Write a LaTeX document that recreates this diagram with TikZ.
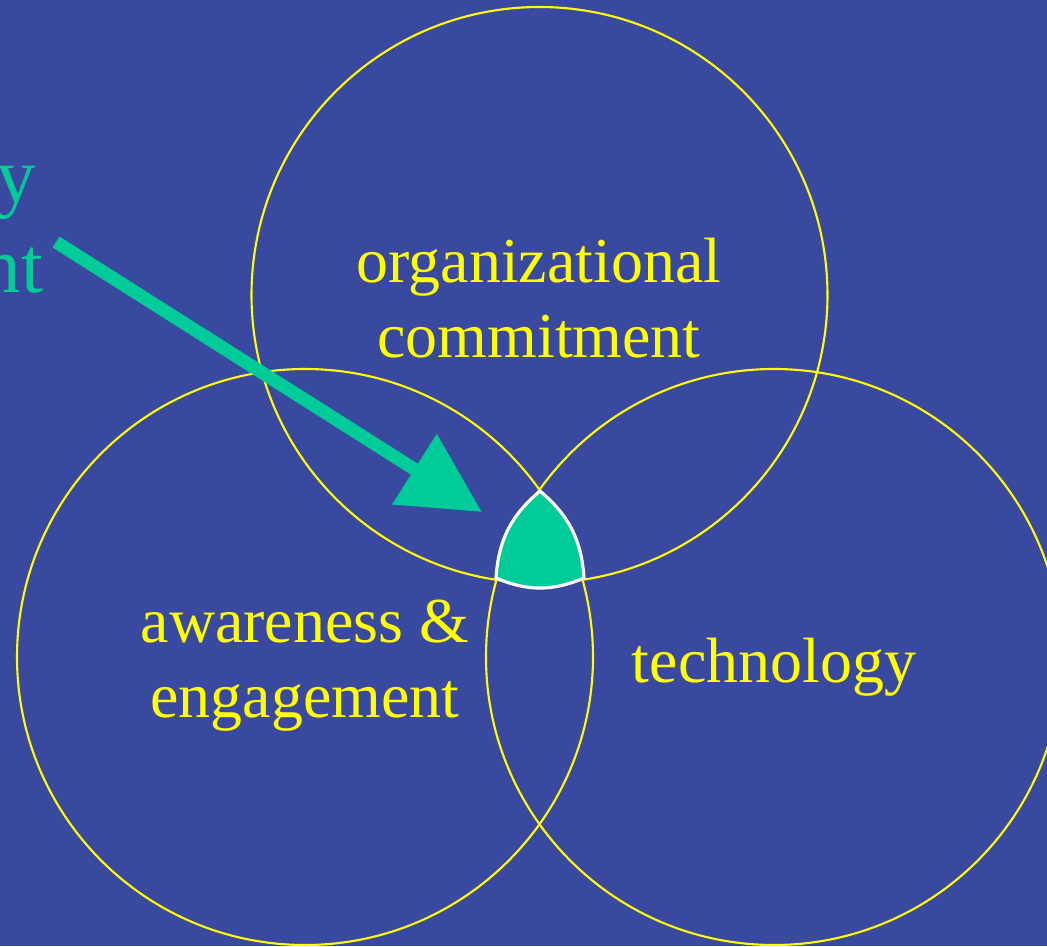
\documentclass[tikz,border=0pt]{standalone}
\usepackage{fontspec}
\setmainfont{Liberation Serif}
\usetikzlibrary{arrows.meta}
\definecolor{slide}{RGB}{58,73,160}
\definecolor{vgreen}{RGB}{0,204,153}
\definecolor{vyellow}{RGB}{255,255,0}

\begin{document}
\begin{tikzpicture}[ring/.style={circle,draw=vyellow,line width=0.6pt,minimum size=5.76cm,inner sep=0pt},
  lbl/.style={text=vyellow,align=center,font=\fontsize{18.2}{21.3}\selectfont},
  side/.style={text=vgreen,font=\fontsize{22.5}{25.6}\selectfont,inner sep=0pt},
  core/.style={fill=vgreen,draw=white,line width=0.9pt,line join=round}]
  \clip (0,0) rectangle (10.47,9.46);
  \fill[slide] (0,0) rectangle (10.47,9.46);
  \node[ring] (org)   at (5.395,6.51) {};
  \node[ring] (aware) at (3.05,2.89)  {};
  \node[ring] (tech)  at (7.74,2.89)  {};

  % where all three overlap
  \coordinate (apex) at (5.40,4.55);
  \coordinate (lowl) at (4.96,3.68);
  \coordinate (lowr) at (5.84,3.68);
  \draw[core] (apex) to[bend right=23] (lowl) to[bend right=23] (lowr)
    to[bend right=23] (apex) -- cycle;

  \node[lbl] (orgtxt)   at (5.39,6.475) {organizational\\commitment};
  \node[lbl] (awaretxt) at (3.05,2.805) {awareness \&\\engagement};
  \node[lbl] (techtxt)  at (7.74,2.79)  {technology};

  \node[side,anchor=base east] (cut1) at (0.37,7.43) {y};
  \node[side,anchor=base east] (cut2) at (0.44,6.53) {nt};

  \coordinate (tail) at (0.56,7.04);
  \coordinate (tip)  at (4.82,4.34);
  \draw[-{Triangle[length=8mm,width=8mm]},vgreen,line width=1.3mm] (tail) -- (tip);
\end{tikzpicture}
\end{document}
